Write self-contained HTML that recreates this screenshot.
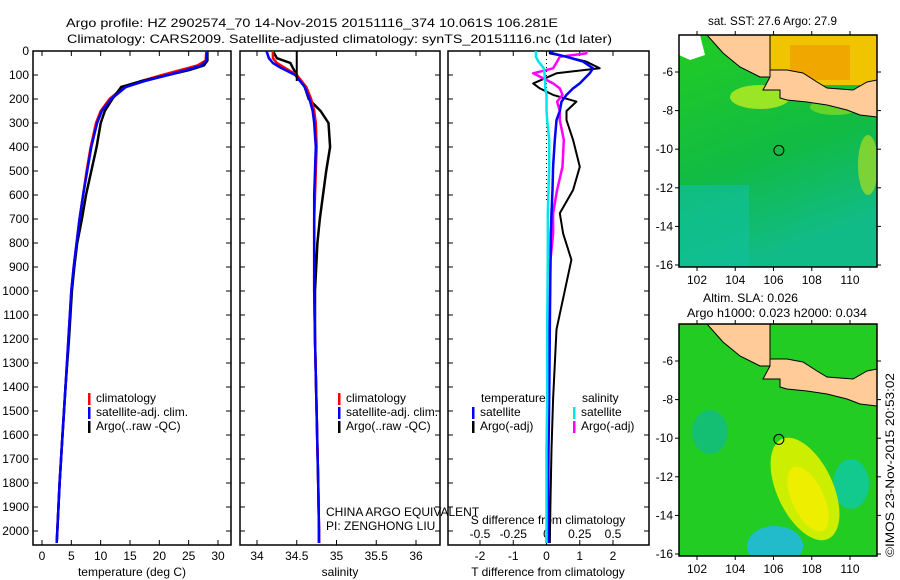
<!DOCTYPE html>
<html><head><meta charset="utf-8"><style>
html,body{margin:0;padding:0;background:#fff;}
svg{display:block;font-family:"Liberation Sans",sans-serif;}
text{fill:#000;font-size:12px;}
</style></head><body>
<svg id="fig" width="900" height="580" viewBox="0 0 900 580" xmlns="http://www.w3.org/2000/svg">
<text x="66" y="27" font-size="14" textLength="492" lengthAdjust="spacingAndGlyphs">Argo profile: HZ 2902574_70 14-Nov-2015 20151116_374 10.061S 106.281E</text>
<text x="67" y="43" font-size="14" textLength="545" lengthAdjust="spacingAndGlyphs">Climatology: CARS2009. Satellite-adjusted climatology: synTS_20151116.nc (1d later)</text>
<g id="g1"></g>
<g id="g2"></g>
<g id="g3"></g>
<g id="m1"></g>
<g id="m2"></g>
<text x="708" y="25" textLength="129" lengthAdjust="spacingAndGlyphs">sat. SST: 27.6 Argo: 27.9</text>
<text x="703" y="302" textLength="95" lengthAdjust="spacingAndGlyphs">Altim. SLA: 0.026</text>
<text x="687" y="317" textLength="180" lengthAdjust="spacingAndGlyphs">Argo h1000: 0.023 h2000: 0.034</text>
<text transform="translate(894,557) rotate(-90)" textLength="184" lengthAdjust="spacingAndGlyphs">©IMOS 23-Nov-2015 20:53:02</text>
</svg>
<script>
// ---- data ----
const depthTicks=[0,100,200,300,400,500,600,700,800,900,1000,1100,1200,1300,1400,1500,1600,1700,1800,1900,2000];
const tempTicks=[0,5,10,15,20,25,30];
const salTicks=[34,34.5,35,35.5,36];
const tdiffTicks=[-2,-1,0,1,2];
const sdiffTicks=[-0.5,-0.25,0,0.25,0.5];
const sdiffLabels=["-0.5","-0.25","0","0.25","0.5"];
const tDepth=[0,40,60,80,100,125,150,200,250,300,400,500,600,700,800,900,1000,1200,1400,1600,1800,2000,2050];
const tClim=[28,27.9,26.5,23.5,20.5,17,14,11.5,10,9.2,8.3,7.6,7.0,6.4,5.9,5.4,5.0,4.5,4.0,3.5,3.0,2.6,2.5];
const tSat=[28.1,28,27.2,24.5,21.5,17.5,14.3,11.8,10.2,9.4,8.4,7.7,7.0,6.4,5.9,5.4,5.0,4.5,4.0,3.5,3.0,2.6,2.5];
const tArgo=[28.2,28.2,27.6,25,21.5,17,13.5,12,10.7,10,9.3,8.4,7.5,6.8,6.0,5.5,5.1,4.6,4.0,3.5,3.0,2.6,2.5];
const sDepth=[0,30,50,70,100,150,200,250,300,400,500,600,700,800,1000,1200,1500,1800,2000,2050];
const sClim=[34.2,34.2,34.25,34.35,34.5,34.62,34.68,34.72,34.74,34.75,34.74,34.73,34.72,34.72,34.72,34.73,34.75,34.77,34.78,34.78];
const sSat=[34.12,34.15,34.2,34.3,34.48,34.6,34.66,34.7,34.72,34.74,34.73,34.72,34.72,34.72,34.72,34.73,34.75,34.77,34.78,34.78];
const sArgo=[34.2,34.25,34.42,34.45,34.5,34.6,34.65,34.8,34.9,34.92,34.87,34.83,34.79,34.76,34.73,34.73,34.75,34.77,34.78,34.78];
const dDepth=[0,10,24,44,72,93,135,156,183,211,250,288,371,482,579,676,760,870,1160,1450,1660,1870,2050];
const dTsat=[0.1,0.2,0.6,1.1,1.4,1.3,1.0,0.8,0.6,0.45,0.4,0.3,0.25,0.2,0.18,0.15,0.13,0.12,0.1,0.08,0.06,0.05,0.05];
const dTargo=[0.1,0.1,0.6,1.2,1.6,0.3,-0.4,-0.2,0.2,0.9,0.6,0.6,0.8,1.0,0.8,0.4,0.5,0.75,0.3,0.2,0.15,0.12,0.1];
const dSsat=[-0.08,-0.08,-0.08,-0.06,-0.02,-0.015,-0.01,-0.01,0,0,0,0.005,0.02,0.02,0.015,0.01,0.01,0.01,0.005,0.005,0,0,0];
const dSargo=[0.3,0.3,0.1,0.08,0.05,-0.1,0.05,0.1,0.12,0.08,0.1,0.1,0.13,0.12,0.08,0.05,0.05,0.03,0.02,0.01,0.01,0.005,0];
const lonTicks=[102,104,106,108,110];
const latTicks=[-6,-8,-10,-12,-14,-16];
const argoLon=[106.281], argoLat=[-10.061];
// ---- helpers ----
const NS="http://www.w3.org/2000/svg";
function mk(parent,tag,attrs,txt){const e=document.createElementNS(NS,tag);for(const k in attrs)e.setAttribute(k,attrs[k]);if(txt!==undefined)e.textContent=txt;parent.appendChild(e);return e;}
const TOP=51,BOT=545;
const yD=d=>TOP+d*0.24;
function lin(d0,d1,r0,r1){return v=>r0+(v-d0)*(r1-r0)/(d1-d0);}
function frame(g,x0,x1){
  const r=mk(g,'rect',{x:x0,y:TOP,width:x1-x0,height:BOT-TOP,fill:'none',stroke:'#000','stroke-width':1.5});
  
  
  depthTicks.forEach(d=>{
    mk(g,'line',{x1:x0,x2:x0+5,y1:yD(d),y2:yD(d),stroke:'#000'});
    mk(g,'line',{x1:x1-5,x2:x1,y1:yD(d),y2:yD(d),stroke:'#000'});
  });
}
function ytickLabels(g,x){
  depthTicks.forEach(d=>{const t=mk(g,'text',{x:x,y:yD(d)+4,'text-anchor':'end'},String(d));
    
    });
}
function xticks(g,vals,labels,sx,yLab,top){
  vals.forEach((v,i)=>{const x=sx(v);
    mk(g,'line',{x1:x,x2:x,y1:BOT,y2:BOT-5,stroke:'#000'});
    if(top)mk(g,'line',{x1:x,x2:x,y1:TOP,y2:TOP+5,stroke:'#000'});
    if(labels){const t=mk(g,'text',{x:x,y:yLab,'text-anchor':'middle'},labels[i]);
      
      }
  });
}
function line(g,depths,vals,sx,color,w,name){
  const p=depths.map((d,i)=>sx(vals[i]).toFixed(1)+','+yD(d).toFixed(1)).join(' ');
  const e=mk(g,'polyline',{points:p,fill:'none',stroke:color,'stroke-width':w,'stroke-linejoin':'round'});
  
  
}
function legend(g,x,y,items){
  items.forEach((it,i)=>{
    mk(g,'rect',{x:x,y:y+i*14-9,width:2.5,height:12,fill:it[1]});
    const t=mk(g,'text',{x:x+8,y:y+i*14},it[0]);
    
    
  });
}
// ---- panel 1 ----
const g1=document.getElementById('g1');
const sxT=lin(0,30,42,218);
frame(g1,33,231);ytickLabels(g1,29);
xticks(g1,tempTicks,tempTicks.map(String),sxT,560,true);
line(g1,tDepth,tClim,sxT,'#ff0000',2.5,'climatology-temperature-line');
line(g1,tDepth,tArgo,sxT,'#000',2.5,'argo-temperature-line');
line(g1,tDepth,tSat,sxT,'#0000ff',2.5,'satellite-temperature-line');
legend(g1,88,402,[['climatology','#ff0000'],['satellite-adj. clim.','#0000ff'],['Argo(..raw -QC)','#000']]);
let t=mk(g1,'text',{x:132,y:576,'text-anchor':'middle'},'temperature (deg C)');


// ---- panel 2 ----
const g2=document.getElementById('g2');
const sxS=lin(34,36,257,416);
frame(g2,240,440);
xticks(g2,salTicks,salTicks.map(String),sxS,560,true);
line(g2,sDepth,sArgo,sxS,'#000',2.5,'argo-salinity-line');
line(g2,sDepth,sClim,sxS,'#ff0000',2.5,'climatology-salinity-line');
line(g2,sDepth,sSat,sxS,'#0000ff',2.5,'satellite-salinity-line');
mk(g2,'line',{x1:sxS(34.5),x2:sxS(34.5),y1:TOP,y2:TOP+30,stroke:'#000','stroke-width':2});
legend(g2,338,402,[['climatology','#ff0000'],['satellite-adj. clim.','#0000ff'],['Argo(..raw -QC)','#000']]);
t=mk(g2,'text',{x:340,y:576,'text-anchor':'middle'},'salinity');


t=mk(g2,'text',{x:326,y:516},'CHINA ARGO EQUIVALENT');


t=mk(g2,'text',{x:326,y:530},'PI: ZENGHONG LIU');


// ---- panel 3 ----
const g3=document.getElementById('g3');
const sxTd=lin(-2,2,480,613), sxSd=lin(-0.5,0.5,480,613);
frame(g3,448,649);
xticks(g3,tdiffTicks,tdiffTicks.map(String),sxTd,560,true);
sdiffTicks.forEach((v,i)=>{const t2=mk(g3,'text',{x:sxSd(v),y:538,'text-anchor':'middle'},sdiffLabels[i]);
  
  });
t=mk(g3,'text',{x:548,y:524,'text-anchor':'middle'},'S difference from climatology');


t=mk(g3,'text',{x:548,y:576,'text-anchor':'middle'},'T difference from climatology');


mk(g3,'line',{x1:sxTd(0),x2:sxTd(0),y1:TOP,y2:200,stroke:'#000','stroke-dasharray':'1,3'});
line(g3,dDepth,dTargo,sxTd,'#000',2,'argo-temperature-difference-line');
line(g3,dDepth,dSargo,sxSd,'#ff00ff',2.5,'argo-salinity-difference-line');
line(g3,dDepth,dTsat,sxTd,'#0000ff',2.5,'satellite-temperature-difference-line');
line(g3,dDepth,dSsat,sxSd,'#00e5ee',2.5,'satellite-salinity-difference-line');
t=mk(g3,'text',{x:481,y:402},'temperature');
t=mk(g3,'text',{x:582,y:402},'salinity');
legend(g3,472,416,[['satellite','#0000ff'],['Argo(-adj)','#000']]);
legend(g3,573,416,[['satellite','#00e5ee'],['Argo(-adj)','#ff00ff']]);
// ---- maps ----
function drawMap(id,y0,kind){
  const g=document.getElementById(id);
  const X0=679,X1=877,Y1=y0+232;
  const sx=lin(102,110,697,850), sy=lin(-6,-16,y0+37,y0+230);
  const cid='clip'+id;
  const cp=mk(g,'clipPath',{id:cid});mk(cp,'rect',{x:X0,y:y0,width:X1-X0,height:Y1-y0});
  const c=mk(g,'g',{'clip-path':'url(#'+cid+')'});
  const dy=y0-35;
  if(kind==='sst'){
    const defs=mk(g,'defs',{});
    const lg=mk(defs,'linearGradient',{id:'sstg',x1:0,y1:0,x2:0.3,y2:1});
    mk(lg,'stop',{offset:0,'stop-color':'#22cc22'});mk(lg,'stop',{offset:0.6,'stop-color':'#11bb44'});mk(lg,'stop',{offset:1,'stop-color':'#11bb88'});
    mk(c,'rect',{x:X0,y:y0,width:198,height:232,fill:'url(#sstg)'});
    mk(c,'rect',{x:X0,y:y0+150,width:70,height:82,fill:'#10bf9a',opacity:0.7});
    mk(c,'ellipse',{cx:760,cy:y0+62,rx:30,ry:12,fill:'#bbee22',opacity:0.8});
    mk(c,'ellipse',{cx:835,cy:y0+72,rx:25,ry:8,fill:'#88dd22',opacity:0.7});
    mk(c,'ellipse',{cx:868,cy:y0+130,rx:10,ry:30,fill:'#aadd22',opacity:0.7});
    mk(c,'rect',{x:770,y:y0,width:107,height:50,fill:'#f0c400'});
    mk(c,'rect',{x:790,y:y0+10,width:60,height:35,fill:'#f0a800'});
    mk(c,'polygon',{points:'679,35 700,35 705,55 690,60 679,55',fill:'#fff'});
  } else {
    mk(c,'rect',{x:X0,y:y0,width:198,height:232,fill:'#22cc22'});
    mk(c,'ellipse',{cx:710,cy:y0+108,rx:18,ry:22,fill:'#11bb88',opacity:0.8});
    mk(c,'ellipse',{cx:851,cy:y0+160,rx:18,ry:25,fill:'#11c99a',opacity:0.9});
    mk(c,'ellipse',{cx:775,cy:y0+222,rx:28,ry:20,fill:'#22bbcc'});
    mk(c,'ellipse',{cx:805,cy:y0+165,rx:28,ry:55,transform:'rotate(-25 805 '+(y0+165)+')',fill:'#ccee00'});
    mk(c,'ellipse',{cx:808,cy:y0+175,rx:16,ry:35,transform:'rotate(-25 808 '+(y0+175)+')',fill:'#eeee00'});
  }
  const shift=pts=>pts.split(' ').map(p=>{const q=p.split(',');return q[0]+','+(+q[1]+dy);}).join(' ');
  const land1=mk(c,'polygon',{points:shift('707,35 723,53 740,67 760,77 770,77 770,35'),fill:'#ffcc99',stroke:'#000','stroke-width':1});
  
  
  const land2=mk(c,'polygon',{points:shift('770,70 787,70 803,73 817,82 827,88 853,90 867,82 877,80 877,117 860,115 847,110 827,105 807,102 787,100 780,98 780,90 763,90 770,77'),fill:'#ffcc99',stroke:'#000','stroke-width':1});
  
  
  const mk1=mk(g,'circle',{cx:sx(argoLon[0]),cy:sy(argoLat[0]),r:5,fill:'none',stroke:'#000'});
  
  
  mk(g,'rect',{x:X0,y:y0,width:X1-X0,height:Y1-y0,fill:'none',stroke:'#000','stroke-width':1.5});
  lonTicks.forEach(v=>{mk(g,'line',{x1:sx(v),x2:sx(v),y1:Y1,y2:Y1+4,stroke:'#000'});mk(g,'line',{x1:sx(v),x2:sx(v),y1:y0,y2:y0-4,stroke:'#000'});
    const tt=mk(g,'text',{x:sx(v),y:Y1+17,'text-anchor':'middle'},String(v));
    
    });
  latTicks.forEach(v=>{mk(g,'line',{x1:X0-4,x2:X0,y1:sy(v),y2:sy(v),stroke:'#000'});mk(g,'line',{x1:X1,x2:X1+4,y1:sy(v),y2:sy(v),stroke:'#000'});
    const tt=mk(g,'text',{x:X0-6,y:sy(v)+4,'text-anchor':'end'},String(v));
    
    });
}
drawMap('m1',35,'sst');
drawMap('m2',324,'sla');
</script>
</body></html>
